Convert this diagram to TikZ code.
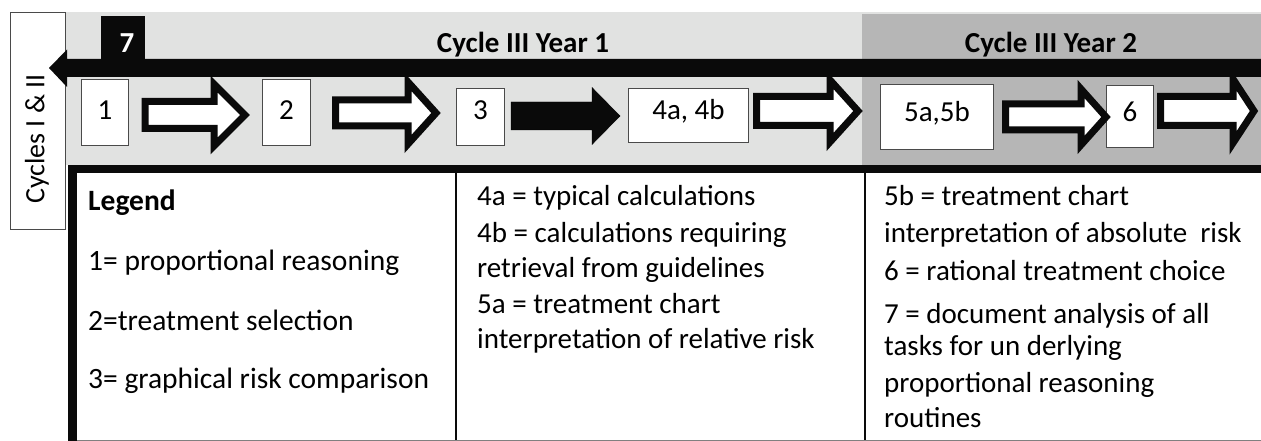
\documentclass[tikz,border=0pt]{standalone}
\usepackage{fontspec}
\setmainfont{Carlito}
\usetikzlibrary{calc}

\definecolor{bandlight}{HTML}{E1E2E1}
\definecolor{banddark}{HTML}{B6B6B6}
\definecolor{ink}{HTML}{0A0A0A}
\definecolor{edge}{HTML}{4A4A4A}

% block arrow: style, left x, tip x, centre y, shaft half height, head half height, head length
\newcommand\blockarrow[7]{%
  \draw[#1] (#2,{#4-#5}) -- ({#3-#7},{#4-#5}) -- ({#3-#7},{#4-#6}) -- (#3,#4)
    -- ({#3-#7},{#4+#6}) -- ({#3-#7},{#4+#5}) -- (#2,{#4+#5}) -- cycle;}

\begin{document}
\begin{tikzpicture}[x=1pt,y=-1pt,
  every node/.style={inner sep=0pt, font=\fontsize{29}{35}\selectfont},
  taskbox/.style={draw=edge, line width=1pt, fill=white, anchor=north west,
    text height=18pt, align=center},
  hollowarrow/.style={draw=ink, fill=white, line width=7pt, miter limit=10},
  solidarrow/.style={fill=ink},
  celltext/.style={anchor=base west},
  cyclelabel/.style={anchor=base, font=\fontsize{29}{35}\selectfont\bfseries}]
\useasboundingbox (0,0) rectangle (1261,441);

% background bands for the two years
\fill[bandlight] (66,12) rectangle (1261,165);
\fill[banddark] (862,14) rectangle (1261,165);

% earlier cycles
\node[draw=edge, line width=1pt, fill=white, anchor=north west,
  minimum width=55pt, minimum height=217pt] (cycles) at (10,12) {};
\node[rotate=90, font=\fontsize{28}{32}\selectfont] (cyclestext) at (37,139) {Cycles I \& II};

% feedback arrow (task 7) back to cycles I & II
\coordinate (feedstart) at (1261,68);
\coordinate (feedend) at (49,68);
\fill[ink] (feedend) -- ++(18,-18.5) -- ++(0,9.5) -- ($(feedstart)+(0,-9)$)
  -- ($(feedstart)+(0,9)$) -- ($(feedend)+(18,9)$) -- ++(0,10) -- cycle;
\fill[ink] (101,16) rectangle (145,60);
\node[anchor=base, text=white, font=\fontsize{29}{35}\selectfont\bfseries] (seven) at (127,53) {7};

% year labels
\node[cyclelabel] (year1) at (523,53) {Cycle III Year 1};
\node[cyclelabel] (year2) at (1051,53) {Cycle III Year 2};

% task boxes
\node[taskbox, text depth=4pt, minimum width=47pt, minimum height=66pt] (b1) at (81,79) {1};
\node[taskbox, text depth=4pt, minimum width=48pt, minimum height=66pt] (b2) at (262,79) {2};
\node[taskbox, text depth=13pt, minimum width=48pt, minimum height=57pt] (b3) at (456,88) {3};
\node[taskbox, text depth=10pt, minimum width=120pt, minimum height=54pt] (b4) at (628,88) {4a, 4b};
\node[taskbox, text depth=9pt, minimum width=113pt, minimum height=65pt] (b5) at (880,84) {5a,5b};
\node[taskbox, text depth=8pt, minimum width=47pt, minimum height=62pt] (b6) at (1106,85) {6};

% arrows between tasks
\blockarrow{hollowarrow}{145}{245}{115}{13.5}{31}{31}
\blockarrow{hollowarrow}{335.5}{436}{113}{13}{31}{28}
\blockarrow{solidarrow}{511}{620}{116}{14}{28.5}{28}
\blockarrow{hollowarrow}{756.5}{858}{111}{14.5}{31}{28}
\blockarrow{hollowarrow}{1005.5}{1106}{117}{13}{28}{25}
\blockarrow{hollowarrow}{1160.5}{1254}{111}{14.5}{32}{21}

% legend table
\fill[ink] (68,165) rectangle (1261,173);
\fill[ink] (68,165) rectangle (77,441);
\draw[ink, line width=1.5pt] (456,173) -- (456,441);
\draw[ink, line width=2pt] (865,173) -- (865,441);
\draw[gray, line width=1pt] (77,440) -- (1261,440);

% first column
\node[celltext, font=\fontsize{29.5}{35}\selectfont\bfseries] (l1) at (88,210) {Legend};
\node[celltext, font=\fontsize{29.5}{35}\selectfont] (l2) at (88,270) {1= proportional reasoning};
\node[celltext, font=\fontsize{29.5}{35}\selectfont] (l3) at (88,330) {2=treatment selection};
\node[celltext, font=\fontsize{29.5}{35}\selectfont] (l4) at (88,388) {3= graphical risk comparison};

% second column
\node[celltext] (m1) at (477,205) {4a = typical calculations};
\node[celltext] (m2) at (477,242) {4b = calculations requiring};
\node[celltext] (m3) at (477,277) {retrieval from guidelines};
\node[celltext] (m4) at (477,313) {5a = treatment chart};
\node[celltext] (m5) at (477,348) {interpretation of relative risk};

% third column
\node[celltext] (r1) at (884,205) {5b = treatment chart};
\node[celltext] (r2) at (884,242) {interpretation of absolute\ \ risk};
\node[celltext] (r3) at (884,280) {6 = rational treatment choice};
\node[celltext] (r4) at (884,323) {7 = document analysis of all};
\node[celltext] (r5) at (884,355) {tasks for un derlying};
\node[celltext] (r6) at (884,392) {proportional reasoning};
\node[celltext] (r7) at (884,427) {routines};
\end{tikzpicture}
\end{document}
